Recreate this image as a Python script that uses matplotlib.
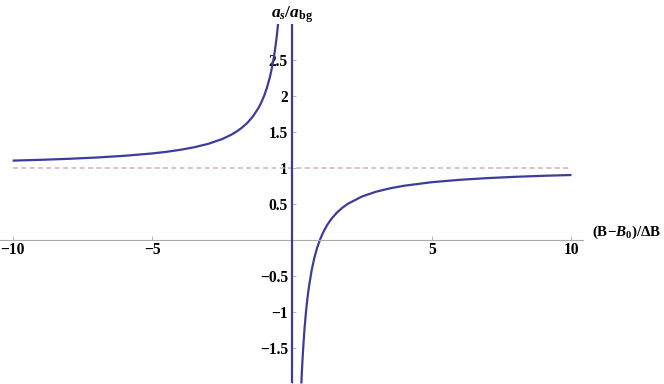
import matplotlib
matplotlib.use("Agg")
import matplotlib.pyplot as plt

# values (a_s/a_bg against (B-B0)/dB)
left_x = [-10, -9, -8, -7, -6, -5, -4.5, -4, -3.5, -3, -2.5, -2.2, -2, -1.8,
          -1.6, -1.4, -1.2, -1.1, -1.0, -0.9, -0.8, -0.75, -0.7, -0.65, -0.6,
          -0.55, -0.5]
left_y = [1.10, 1.111, 1.125, 1.143, 1.167, 1.20, 1.222, 1.25, 1.286, 1.333,
          1.40, 1.455, 1.50, 1.556, 1.625, 1.714, 1.833, 1.909, 2.0, 2.111,
          2.25, 2.333, 2.429, 2.538, 2.667, 2.818, 3.0]
right_x = [0.333, 0.35, 0.375, 0.4, 0.45, 0.5, 0.55, 0.6, 0.7, 0.8, 0.9, 1.0,
           1.1, 1.25, 1.4, 1.6, 1.8, 2.0, 2.5, 3, 3.5, 4, 5, 6, 7, 8, 9, 10]
right_y = [-2.0, -1.857, -1.667, -1.5, -1.222, -1.0, -0.818, -0.667, -0.429,
           -0.25, -0.111, 0.0, 0.091, 0.2, 0.286, 0.375, 0.444, 0.5, 0.6,
           0.667, 0.714, 0.75, 0.8, 0.833, 0.857, 0.875, 0.889, 0.9]
pole_x = [0, 0]
pole_y = [-2.0, 3.0]
bg_x = [-10, 10]
bg_y = [1, 1]

xticks = [-10, -5, 5, 10]
xlabels = ["\u221210", "\u22125", "5", "10"]
yticks = [-1.5, -1, -0.5, 0.5, 1, 1.5, 2, 2.5]
ylabels = ["\u22121.5", "\u22121", "\u22120.5", "0.5", "1", "1.5", "2", "2.5"]

plt.rcParams['font.family'] = ['Liberation Serif', 'DejaVu Serif']
plt.rcParams['font.weight'] = 'bold'
plt.rcParams['mathtext.fontset'] = 'custom'
plt.rcParams['mathtext.rm'] = 'Liberation Serif:bold'
plt.rcParams['mathtext.it'] = 'Liberation Serif:bold:italic'
plt.rcParams['mathtext.bf'] = 'Liberation Serif:bold'

fig = plt.figure(figsize=(6.64, 3.84), dpi=100)
ax = fig.add_axes([0, 0, 1, 1])
ax.set_xlim(-10.45, 13.31)
ax.set_ylim(-2.007, 3.334)

curve = '#3d3d99'
ax.plot(bg_x, bg_y, color='#d9b3c9', lw=1.2, dashes=(3, 2))
ax.plot(left_x, left_y, color=curve, lw=1.6, solid_capstyle='butt')
ax.plot(right_x, right_y, color=curve, lw=1.6, solid_capstyle='butt')
ax.plot(pole_x, pole_y, color=curve, lw=1.6, solid_capstyle='butt', zorder=3)

for s in ['top', 'right']:
    ax.spines[s].set_visible(False)
ax.spines['bottom'].set_position(('data', 0))
ax.spines['left'].set_position(('data', 0))
ax.spines['bottom'].set_bounds(-10.45, 10.4)
ax.spines['left'].set_bounds(-2.0, 3.0)
for s in ['bottom', 'left']:
    ax.spines[s].set_color('#aaaaaa')
    ax.spines[s].set_linewidth(0.8)

ax.set_xticks(xticks)
ax.set_xticklabels(xlabels)
ax.set_yticks(yticks)
ax.set_yticklabels(ylabels)
ax.tick_params(direction='in', length=3, width=0.6, color='#aaaaaa',
               labelsize=11.2, pad=2)
ax.tick_params(axis='y', pad=3)
ax.patch.set_alpha(0)

ax.text(10.72, 0.1, r'$(\mathrm{B}{-}B_0)/\Delta\mathrm{B}$', fontsize=10.8,
        ha='left', va='center')
ax.text(0, 3.13, r'$a_s/a_{\mathrm{bg}}$', fontsize=12.5, ha='center',
        va='center')

fig.savefig('out.png', dpi=100)
